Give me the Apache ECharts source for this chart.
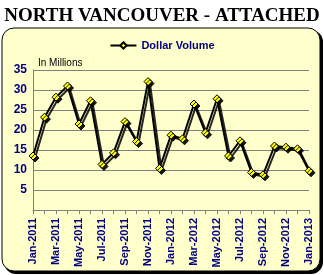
<!DOCTYPE html>
<html>
<head>
<meta charset="utf-8">
<script src="https://cdn.jsdelivr.net/npm/echarts@6/dist/echarts.min.js"></script>
<style>
  html, body { margin: 0; padding: 0; background: #fff; }
  #chart { width: 324px; height: 275px; }
</style>
</head>
<body>
<div id="chart"></div>
<script>
// months Jan-2011 .. Jan-2013
const months = [
  'Jan-2011', 'Feb-2011', 'Mar-2011', 'Apr-2011', 'May-2011', 'Jun-2011',
  'Jul-2011', 'Aug-2011', 'Sep-2011', 'Oct-2011', 'Nov-2011', 'Dec-2011',
  'Jan-2012', 'Feb-2012', 'Mar-2012', 'Apr-2012', 'May-2012', 'Jun-2012',
  'Jul-2012', 'Aug-2012', 'Sep-2012', 'Oct-2012', 'Nov-2012', 'Dec-2012',
  'Jan-2013'
]
// dollar volume, millions
const dollarVolume = [
  13.5, 23.2, 28.2, 31.0, 21.5, 27.3,
  11.4, 14.3, 22.1, 17.1, 32.1, 10.4,
  18.7, 17.8, 26.5, 19.3, 27.8, 13.5,
  17.3, 9.4, 8.8, 16.0, 15.7, 15.3,
  9.8
]
const yTicks = [0, 5, 10, 15, 20, 25, 30, 35]

const navy = '#000080'
const chart = echarts.init(document.getElementById('chart'))

chart.setOption({
  animation: false,
  backgroundColor: '#fff',
  graphic: [
    // panel shadow
    {
      type: 'rect', z: -10,
      shape: { x: 4, y: 30, width: 319, height: 244, r: 12 },
      style: { fill: '#000' }
    },
    // panel
    {
      type: 'rect', z: -9,
      shape: { x: 2, y: 28, width: 318, height: 243, r: 12 },
      style: { fill: '#FFFFCC', stroke: '#000', lineWidth: 1 }
    },
    {
      type: 'text', left: 38, top: 58,
      style: { text: 'In Millions', fill: '#000', font: '10px Arial, "Liberation Sans", sans-serif' }
    }
  ],
  title: {
    text: 'NORTH VANCOUVER - ATTACHED',
    left: 'center',
    top: 2,
    textStyle: {
      fontFamily: '"Liberation Serif", "Times New Roman", serif',
      fontWeight: 'bold',
      fontSize: 19,
      color: '#000'
    }
  },
  legend: {
    top: 35,
    left: 'center',
    itemWidth: 26,
    itemHeight: 8,
    itemGap: 4,
    textStyle: {
      color: navy,
      fontWeight: 'bold',
      fontSize: 11,
      fontFamily: 'Arial, "Liberation Sans", sans-serif'
    },
    data: ['Dollar Volume']
  },
  grid: { left: 33, right: 15, top: 70, bottom: 65 },
  xAxis: {
    type: 'category',
    data: months,
    boundaryGap: false,
    axisLine: { lineStyle: { color: '#808080', width: 1 } },
    axisTick: { show: true, interval: 0, length: 4, lineStyle: { color: '#808080' } },
    axisLabel: {
      interval: 1,
      rotate: 90,
      margin: 8,
      color: navy,
      fontWeight: 'bold',
      fontSize: 11,
      fontFamily: 'Arial, "Liberation Sans", sans-serif'
    },
    splitLine: { show: false }
  },
  yAxis: {
    type: 'value',
    min: yTicks[0],
    max: yTicks[yTicks.length - 1],
    interval: 5,
    axisLine: { show: true, lineStyle: { color: '#808080' } },
    axisTick: { show: false },
    axisLabel: {
      color: navy,
      fontWeight: 'bold',
      fontSize: 12,
      margin: 6,
      fontFamily: 'Arial, "Liberation Sans", sans-serif',
      formatter: (v) => (v === 0 ? '' : String(v))
    },
    splitLine: { lineStyle: { color: '#808080', width: 1 } }
  },
  series: [{
    name: 'Dollar Volume',
    type: 'line',
    data: dollarVolume,
    symbol: 'diamond',
    symbolSize: 8,
    showAllSymbol: true,
    lineStyle: {
      color: '#000', width: 2,
      shadowColor: 'rgba(0,0,0,0.85)', shadowBlur: 0, shadowOffsetX: 2, shadowOffsetY: 2
    },
    itemStyle: {
      color: '#FFFF00', borderColor: '#000', borderWidth: 1,
      shadowColor: 'rgba(0,0,0,0.9)', shadowBlur: 0, shadowOffsetX: 2, shadowOffsetY: 2
    }
  }]
})
</script>
</body>
</html>
